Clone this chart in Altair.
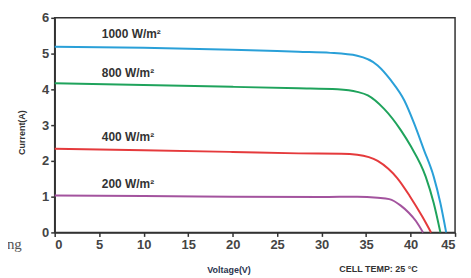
import altair as alt
import pandas as pd

# ---- data ----
series_names = ["1000 W/m²", "800 W/m²", "400 W/m²", "200 W/m²"]
series_colors = ["#2aa0d8", "#1fa35c", "#e53a3c", "#a3539e"]

v_1000 = [0, 10, 20, 27.4, 31, 34.0, 36.3, 37.8, 39.3, 40.4, 41.5, 42.6, 43.35, 44.0]
i_1000 = [5.19, 5.16, 5.11, 5.05, 5.02, 4.94, 4.67, 4.25, 3.69, 3.05, 2.31, 1.56, 0.82, 0.0]

v_800 = [0, 10, 20, 27.4, 31.8, 34.0, 35.2, 37.0, 38.9, 40.0, 41.7, 42.6, 43.35]
i_800 = [4.17, 4.12, 4.07, 4.03, 4.00, 3.93, 3.83, 3.46, 2.86, 2.42, 1.56, 0.82, 0.0]

v_400 = [0, 10, 20, 27.4, 32.2, 34.0, 36.3, 37.5, 38.5, 39.9, 41.3, 42.3]
i_400 = [2.34, 2.30, 2.25, 2.21, 2.20, 2.17, 2.00, 1.78, 1.52, 1.02, 0.45, 0.0]

v_200 = [0, 10, 20, 30, 34.0, 36.3, 37.6, 38.9, 39.8, 40.6, 41.4]
i_200 = [1.03, 1.02, 1.00, 0.99, 1.00, 0.97, 0.93, 0.75, 0.55, 0.32, 0.0]

label_v = [5.3, 5.3, 5.3, 5.3]
label_i = [5.54, 4.46, 2.67, 1.34]

x_ticks = [0, 5, 10, 15, 20, 25, 30, 35, 40, 45]
y_ticks = [0, 1, 2, 3, 4, 5, 6]

# cut-off word of the neighbouring scanned text at the left edge
frag_text = ["ling"]
frag_v = [-3.7]
frag_i = [-0.33]

rows = []
for name, vs, cs in zip(series_names, [v_1000, v_800, v_400, v_200],
                        [i_1000, i_800, i_400, i_200]):
    for k, (v, c) in enumerate(zip(vs, cs)):
        rows.append({"series": name, "V": v, "I": c, "order": k})
df = pd.DataFrame(rows)
labels_df = pd.DataFrame({"series": series_names, "V": label_v, "I": label_i})
frag_df = pd.DataFrame({"t": frag_text, "V": frag_v, "I": frag_i})

FONT = "Liberation Sans"

x_scale = alt.Scale(domain=[0, 45], nice=False, zero=False)
y_scale = alt.Scale(domain=[0, 6], nice=False)
color_scale = alt.Scale(domain=series_names, range=series_colors)

x_axis = alt.Axis(values=x_ticks, title="Voltage(V)", grid=False,
                  labelOverlap=False,
                  titleX=175, titleY=37, titleAlign="center",
                  titleBaseline="middle", titleFontSize=9,
                  titleFontWeight="bold", titleColor="#2b3550",
                  titleFont=FONT)
y_axis = alt.Axis(values=y_ticks, title="Current(A)", grid=False,
                  labelOverlap=False,
                  titleX=-33, titleY=115, titleAlign="center",
                  titleBaseline="middle", titleAngle=270,
                  titleFontSize=9, titleFontWeight="bold",
                  titleColor="#333333", titleFont=FONT,
                  labelPadding=2)

lines = alt.Chart(df).mark_line(strokeWidth=2, interpolate="monotone").encode(
    x=alt.X("V:Q", scale=x_scale, axis=x_axis),
    y=alt.Y("I:Q", scale=y_scale, axis=y_axis),
    color=alt.Color("series:N", scale=color_scale, legend=None),
    order="order:Q",
)

labels = alt.Chart(labels_df).mark_text(
    align="left", baseline="middle", fontSize=12, fontWeight="bold",
    font=FONT, color="#333333"
).encode(
    x=alt.X("V:Q", scale=x_scale, axis=x_axis),
    y=alt.Y("I:Q", scale=y_scale, axis=y_axis),
    text="series:N",
)

cell_temp = alt.Chart(pd.DataFrame({"t": ["CELL TEMP: 25 °C"]})).mark_text(
    align="center", baseline="middle", fontSize=9, fontWeight="bold",
    font=FONT, color="#333333"
).encode(x=alt.value(326), y=alt.value(253), text="t:N")

frags = alt.Chart(frag_df).mark_text(
    align="right", baseline="middle", fontSize=15, font="Liberation Serif",
    color="#555555"
).encode(
    x=alt.X("V:Q", scale=x_scale, axis=x_axis),
    y=alt.Y("I:Q", scale=y_scale, axis=y_axis),
    text="t:N",
)

chart = alt.layer(lines, labels, cell_temp, frags).properties(
    width=403, height=216,
    autosize=alt.AutoSizeParams(type="none"),
    padding={"left": 47, "top": 9, "right": 8, "bottom": 45},
).configure_view(
    stroke="#333333", strokeWidth=1.5
).configure_axis(
    domainColor="#333333", domainWidth=1.5,
    tickColor="#333333", tickWidth=1.5, tickSize=4,
    labelFont=FONT, labelFontSize=13, labelFontWeight="bold",
    labelColor="#444444", labelPadding=2,
)

chart.save("out.html", embed_options={"renderer": "svg", "actions": False})
